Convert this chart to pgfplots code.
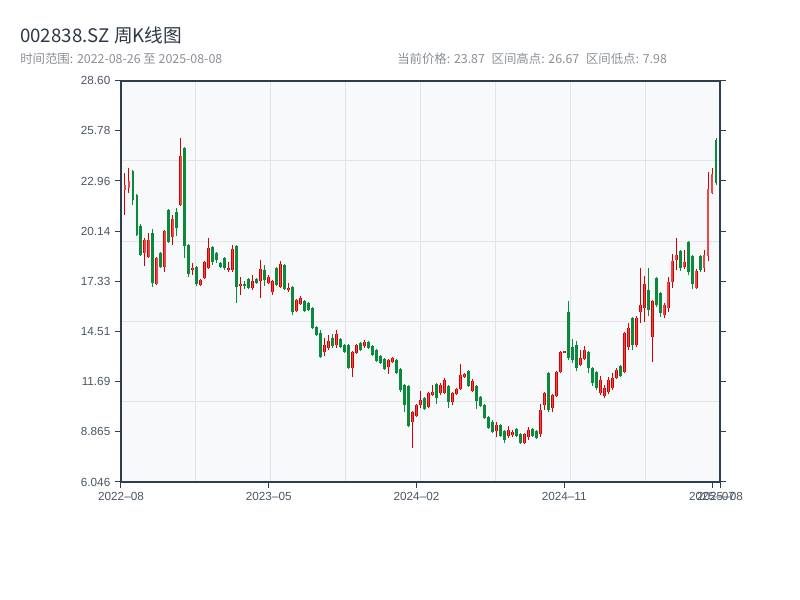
\documentclass[border=0pt]{standalone}
\usepackage{fontspec}
\setmainfont{Liberation Sans}
\newfontfamily\cjk{Noto Sans CJK SC}
\usepackage{pgfplots}
\usepackage{pgfplotstable}
\pgfplotsset{compat=1.18}

\definecolor{spine}{RGB}{44,62,80}
\definecolor{titlec}{RGB}{45,55,72}
\definecolor{ticktext}{RGB}{74,85,99}
\definecolor{subgray}{RGB}{138,143,150}
\definecolor{gridc}{RGB}{225,229,234}
\definecolor{plotbg}{RGB}{247,249,251}
\definecolor{upline}{RGB}{210,0,0}
\definecolor{upfill}{RGB}{238,70,70}
\definecolor{down}{RGB}{10,138,60}

% weekly candles, index 0..150 (red = close above open)
\pgfplotstableread{
i o h l c
1 22.46 23.41 21.05 22.74
2 22.57 23.69 22.29 22.96
6 18.92 19.76 18.18 19.65
7 18.69 20.04 18.63 19.65
9 17.17 18.68 17.12 18.63
11 18.13 20.21 17.85 20.16
13 19.81 21.05 19.36 20.83
15 21.61 25.38 21.56 24.37
18 17.96 18.35 17.68 18.07
20 17.12 17.45 17.06 17.40
21 17.51 18.46 17.45 18.41
22 18.07 19.76 18.02 19.20
27 17.96 18.41 17.85 18.07
28 17.96 19.36 17.85 19.14
30 17.06 17.57 16.55 17.17
33 16.95 17.68 16.84 17.34
35 17.34 18.52 16.39 18.02
37 17.23 17.68 17.17 17.57
38 16.72 17.40 16.55 17.34
40 17.00 18.47 16.95 18.30
42 16.84 17.23 16.72 16.95
44 15.65 16.33 15.60 16.27
45 16.05 16.50 15.99 16.39
51 13.35 14.14 13.13 13.74
52 13.58 14.31 13.46 13.97
54 13.74 14.59 13.58 14.36
58 12.45 13.41 11.95 13.35
59 13.29 13.80 13.25 13.74
61 13.69 14.02 13.58 13.91
67 12.51 12.96 12.11 12.90
68 12.79 13.07 12.76 13.01
73 9.42 10.02 7.98 9.98
74 9.75 10.41 9.71 10.37
75 10.37 11.16 10.20 10.65
77 10.26 11.10 10.20 11.05
78 10.93 11.50 10.88 11.10
80 11.05 11.61 10.93 11.50
81 11.05 11.89 10.99 11.78
83 10.54 11.10 10.37 11.05
84 10.99 11.33 10.94 11.27
85 11.27 12.68 11.21 12.06
86 11.95 12.17 11.90 12.11
88 11.16 11.83 11.10 11.72
94 8.91 9.42 8.57 9.25
97 8.63 9.19 8.52 8.97
98 8.68 8.97 8.57 8.85
101 8.23 8.78 8.18 8.74
102 8.57 9.13 8.40 8.97
105 8.74 10.43 8.57 10.09
106 10.37 11.10 10.09 11.05
108 10.20 10.98 9.98 10.93
109 10.88 12.28 10.82 12.23
110 12.23 13.41 12.17 13.35
111 13.32 13.43 13.29 13.41
115 12.62 13.46 12.56 13.01
116 12.96 13.69 12.90 13.46
120 11.05 12.00 10.93 11.78
121 10.88 11.50 10.76 11.33
122 11.10 11.95 10.99 11.78
123 11.33 12.17 11.21 11.89
124 11.89 12.45 11.83 12.34
126 12.23 14.47 12.17 14.42
127 13.63 14.98 13.46 14.70
129 13.74 15.37 13.63 15.26
130 15.60 18.07 14.98 15.99
131 15.82 17.62 15.04 17.17
133 14.19 16.26 12.79 16.22
136 15.43 16.10 15.26 15.99
137 15.82 17.57 15.60 17.28
138 17.28 18.86 16.95 18.47
139 18.52 19.76 17.96 18.80
141 18.13 19.08 18.02 18.41
144 16.95 18.02 16.89 17.90
146 18.07 19.08 17.85 18.80
147 18.75 23.47 18.47 22.51
148 22.29 23.69 22.24 23.36
150 22.46 24.82 22.29 23.87
}\upweeks

\pgfplotstableread{
i o h l c
0 25.83 26.67 22.70 22.74
3 23.52 23.58 21.61 21.89
4 22.18 22.23 19.87 19.93
5 20.43 20.54 18.75 18.80
8 20.04 20.26 17.00 17.23
10 18.92 18.97 18.07 18.13
12 21.33 21.39 19.48 19.53
14 21.22 21.44 19.87 20.32
16 24.82 24.87 18.63 19.31
17 19.36 19.42 17.57 17.73
19 18.13 18.18 17.06 17.17
23 19.25 19.30 18.24 18.41
24 18.92 18.97 18.35 18.52
25 18.35 18.40 18.07 18.13
26 18.63 18.68 17.96 18.07
29 19.31 19.35 16.10 17.00
31 17.17 17.34 16.89 17.06
32 17.45 17.50 16.89 16.95
34 17.45 17.50 17.18 17.23
36 17.96 18.24 17.06 17.40
39 18.07 18.12 17.06 17.12
41 18.24 18.29 16.84 16.89
43 17.00 17.05 15.43 15.60
46 16.22 16.26 15.60 15.65
47 16.10 16.16 15.65 15.71
48 15.82 15.87 14.64 14.70
49 14.76 14.80 14.25 14.31
50 14.42 14.59 13.01 13.07
53 14.14 14.36 13.58 13.69
55 14.08 14.14 13.58 13.63
56 13.74 13.80 13.30 13.35
57 13.74 13.80 12.40 12.45
60 13.86 13.90 13.42 13.46
62 13.91 13.95 13.53 13.58
63 13.69 13.73 13.14 13.18
64 13.46 13.50 12.80 12.85
65 13.13 13.17 12.69 12.73
66 12.96 13.00 12.35 12.39
69 12.90 12.95 12.13 12.17
70 12.39 12.44 11.10 11.21
71 11.50 11.55 9.98 10.37
72 11.44 11.48 9.13 9.19
76 10.76 10.80 10.10 10.15
79 11.55 11.61 10.43 10.76
82 11.44 11.48 10.20 10.54
87 12.28 12.34 11.38 11.44
89 11.44 11.48 10.15 10.60
90 10.82 10.87 10.26 10.32
91 10.37 10.42 9.60 9.64
92 9.70 9.74 9.02 9.08
93 9.42 9.53 8.80 8.85
95 9.25 9.29 8.57 8.63
96 8.91 8.97 8.23 8.40
99 9.02 9.06 8.58 8.63
100 8.74 8.78 8.18 8.23
103 9.02 9.06 8.58 8.63
104 8.91 8.95 8.46 8.52
107 12.17 12.21 9.98 10.09
112 15.60 16.22 12.90 13.01
113 13.63 14.08 12.73 12.90
114 13.74 13.97 12.28 12.45
117 13.35 13.40 12.17 12.45
118 12.45 12.51 11.44 11.61
119 12.23 12.27 11.21 11.33
125 12.56 12.61 11.96 12.00
128 15.26 15.30 13.46 13.74
132 16.84 18.07 15.37 15.71
134 17.51 17.55 15.88 15.99
135 16.67 16.71 15.32 15.54
140 19.03 19.07 17.90 18.07
142 19.53 19.59 17.68 17.85
143 18.75 18.80 16.89 17.17
145 18.75 18.80 17.85 17.96
149 25.27 25.38 22.74 22.85
}\downweeks

\pgfplotsset{
  kframe/.style={
    at={(90.75pt,88.5pt)}, anchor=south west, scale only axis,
    width=449.25pt, height=301pt,
    xmin=0, xmax=150, ymin=6.046, ymax=28.6,
  },
  stick/.style 2 args={draw=none, mark=none,
    error bars/.cd, y dir=plus, y explicit, error mark=none,
    error bar style={draw=#1, line width=#2, solid}},
}

\begin{document}
\begin{tikzpicture}
\path[use as bounding box] (0,0) rectangle (600pt,450pt);

\node[anchor=base west, inner sep=0, text=titlec, font=\cjk\fontsize{14}{16}\selectfont]
  at (15pt,418.3pt) {002838.SZ 周K线图};
\node[anchor=base west, inner sep=0, text=subgray, font=\cjk\fontsize{9.3}{11}\selectfont]
  at (15pt,402.5pt) {时间范围: 2022-08-26 至 2025-08-08};
\node[anchor=base west, inner sep=0, text=subgray, font=\cjk\fontsize{9.3}{11}\selectfont]
  at (297.75pt,402.5pt) {当前价格: 23.87\hspace{5pt}区间高点: 26.67\hspace{5pt}区间低点: 7.98};

% background and split lines
\begin{axis}[kframe,
    axis background/.style={fill=plotbg},
    axis line style={draw=none},
    xtick={18.75,37.5,56.25,75,93.75,112.5,131.25},
    ytick={10.5568,15.0676,19.5784,24.0892},
    xticklabels={}, yticklabels={},
    major tick length=0pt,
    grid=major, grid style={gridc, line width=0.75pt},
  ]
\end{axis}

\begin{axis}[kframe,
    clip=false, axis on top,
    axis line style={spine, line width=1.5pt},
    tick style={spine, line width=0.75pt},
    tick align=outside, major tick length=4.5pt,
    xtick pos=left, ytick pos=both, yticklabel pos=left,
    xtick={0,37,74,111,148,150},
    xticklabels={2022–08,2023–05,2024–02,2024–11,2025–07,2025–08},
    ytick={6.046,8.865,11.6845,14.5038,17.323,20.1423,22.9615,25.7808,28.6},
    yticklabels={6.046,8.865,11.69,14.51,17.33,20.14,22.96,25.78,28.60},
    ticklabel style={font=\fontsize{8.8}{10}\selectfont, text=ticktext},
  ]
  % wicks
  \addplot[stick={upline}{0.75pt}] table[x=i, y=l, y error plus expr=\thisrow{h}-\thisrow{l}] {\upweeks};
  \addplot[stick={down}{0.75pt}] table[x=i, y=l, y error plus expr=\thisrow{h}-\thisrow{l}] {\downweeks};
  % bodies
  \addplot[stick={upline}{2.2pt}] table[x=i, y=o, y error plus expr=\thisrow{c}-\thisrow{o}] {\upweeks};
  \addplot[stick={upfill}{0.9pt}] table[x=i, y=o, y error plus expr=\thisrow{c}-\thisrow{o}] {\upweeks};
  \addplot[stick={down}{2.2pt}] table[x=i, y=c, y error plus expr=\thisrow{o}-\thisrow{c}] {\downweeks};
\end{axis}
\end{tikzpicture}
\end{document}
